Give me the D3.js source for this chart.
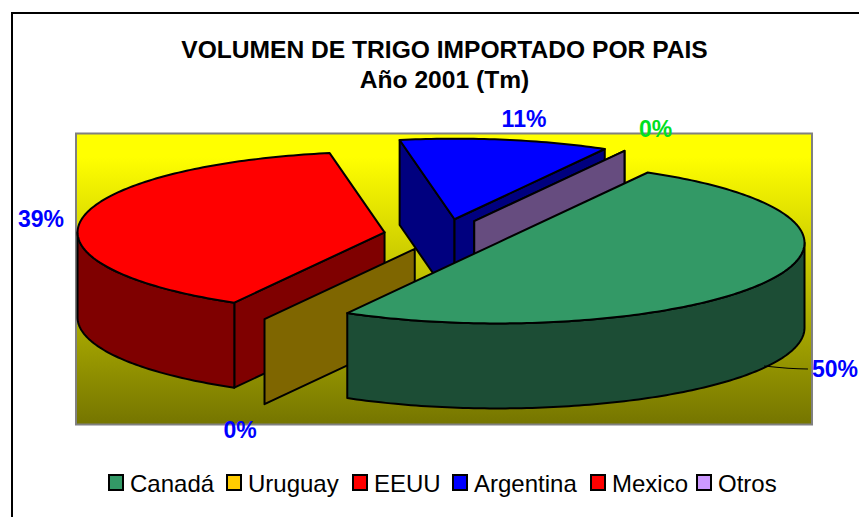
<!DOCTYPE html>
<html><head><meta charset="utf-8">
<script src="https://cdn.jsdelivr.net/npm/d3@7/dist/d3.min.js"></script>
<style>html,body{margin:0;padding:0;background:#fff;overflow:hidden}svg{display:block}text{font-family:"Liberation Sans",Arial,sans-serif}</style>
</head><body><svg id="c" width="859" height="517"></svg>
<script>
const categories = ["Canadá","Uruguay","EEUU","Argentina","Mexico","Otros"];
const shares = [50,0,39,11,0,0];
const topColors = ["#339966","#ffcc00","#ff0000","#0000ff","#ff0000","#cc99ff"];
const sideColors = ["#1c4d35","#7f6600","#7f0000","#00007f","#7f0000","#664c7f"];
const labelColors = ["#0000ff","#0000ff","#0000ff","#0000ff",null,"#00e020"];
const drawOrder = ["Argentina","Mexico","Otros","EEUU","Uruguay","Canadá"];
const titleLines = ["VOLUMEN DE TRIGO IMPORTADO POR PAIS","Año 2001 (Tm)"];

const svg = d3.select("#c");
const defs = svg.append("defs");
const grad = defs.append("linearGradient").attr("id","bg").attr("x1",0).attr("y1",0).attr("x2",0).attr("y2",1);
grad.append("stop").attr("offset","0").attr("stop-color","#ffff00");
grad.append("stop").attr("offset","0.08").attr("stop-color","#ffff00");
grad.append("stop").attr("offset","1").attr("stop-color","#757500");

// frame (right and bottom edges fall outside the crop)
svg.append("rect").attr("x",12).attr("y",13).attr("width",900).attr("height",600).attr("fill","#fff").attr("stroke","#000").attr("stroke-width",2);

// title
svg.selectAll("text.title").data(titleLines).join("text").attr("class","title")
  .attr("x",444.5).attr("y",(d,i)=>58+i*30).attr("text-anchor","middle")
  .attr("font-size",24.6).attr("font-weight","bold").attr("fill","#000").text(d=>d);

// plot area
svg.append("rect").attr("x",76).attr("y",133.5).attr("width",736).attr("height",291)
  .attr("fill","url(#bg)").attr("stroke","#808080").attr("stroke-width",2);

// pie geometry
const deg = Math.PI/180;
const pie = d3.pie().value(d=>d.v).sort(null).startAngle(29.3*deg).endAngle(389.3*deg);
const arcs = pie(categories.map((c,i)=>({c,v:shares[i],top:topColors[i],side:sideColors[i],lab:labelColors[i]})));
const cx=444.5, cy=235;
const rx=d3.scaleLinear().domain([0,1]).range([0,307]), ry=d3.scaleLinear().domain([0,1]).range([0,80.6]);
const depth=85, explode=0.198;
function vertex(a){const m=(a.startAngle+a.endAngle)/2;return [cx+rx(explode)*Math.sin(m), cy-ry(explode)*Math.cos(m)];}
function pt(v,t,r=1){return [v[0]+rx(r)*Math.sin(t), v[1]-ry(r)*Math.cos(t)];}
const line=d3.line();
function arcPts(v,a0,a1){const n=Math.max(2,Math.ceil((a1-a0)/deg));return d3.range(n+1).map(i=>pt(v,a0+(a1-a0)*i/n));}

const g=svg.append("g").attr("stroke","#000").attr("stroke-width",2).attr("stroke-linejoin","round");
drawOrder.forEach(name=>{
  const a=arcs.find(d=>d.data.c===name); const v=vertex(a);
  const wall=t=>{const p=pt(v,t);
    g.append("path").attr("fill",a.data.side).attr("d",line([v,p,[p[0],p[1]+depth],[v[0],v[1]+depth]])+"Z");};
  if(Math.sin(a.startAngle)<0) wall(a.startAngle);
  if(Math.sin(a.endAngle)>0) wall(a.endAngle);
  const s=Math.max(a.startAngle,90*deg), e=Math.min(a.endAngle,270*deg);
  if(e>s){const up=arcPts(v,s,e),dn=up.map(p=>[p[0],p[1]+depth]).reverse();
    g.append("path").attr("fill",a.data.side).attr("d",line(up.concat(dn))+"Z");}
  if(a.endAngle>a.startAngle){
    g.append("path").attr("fill",a.data.top).attr("d",line([v].concat(arcPts(v,a.startAngle,a.endAngle)))+"Z");
  }
});

// leader line for Canadá label
svg.append("path").attr("d","M764,366 Q790,369 808,369").attr("fill","none").attr("stroke","#000").attr("stroke-width",1.2);

// data labels
const labelPos={"Canadá":[835,377],"Uruguay":[240,438],"EEUU":[41,227],"Argentina":[524,127],"Otros":[655.5,137]};
arcs.forEach(a=>{ if(!a.data.lab) return; const p=labelPos[a.data.c];
  svg.append("text").attr("x",p[0]).attr("y",p[1]).attr("text-anchor","middle").attr("font-size",23).attr("font-weight","bold")
    .attr("fill",a.data.lab).text(a.data.v+"%");});

// legend
const legendX=[108,226,352,452,590,696];
const leg=svg.selectAll("g.leg").data(arcs).join("g").attr("class","leg").attr("transform",(d,i)=>`translate(${legendX[i]},474)`);
leg.append("rect").attr("x",1).attr("y",1).attr("width",14).attr("height",15).attr("fill",d=>d.data.top).attr("stroke","#000").attr("stroke-width",2);
leg.append("text").attr("x",22).attr("y",18).attr("font-size",24).attr("fill","#000").text(d=>d.data.c);
</script></body></html>
